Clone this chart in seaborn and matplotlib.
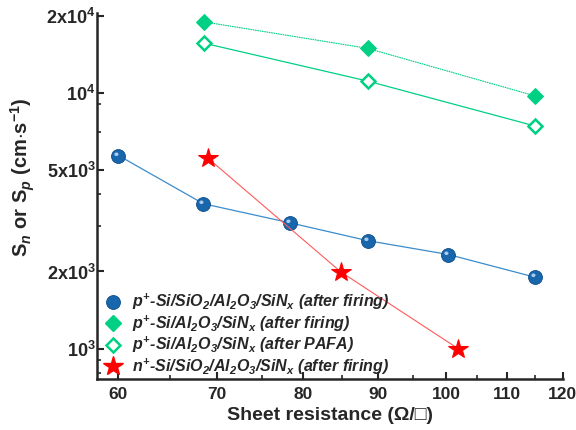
import matplotlib
matplotlib.use('Agg')
import matplotlib.pyplot as plt
from matplotlib.lines import Line2D
from matplotlib.path import Path
from matplotlib.ticker import FixedLocator, NullFormatter
import seaborn as sns
import pandas as pd
import numpy as np

# data (x: sheet resistance, y: S_n or S_p)
blue_x = [60.0, 68.5, 78.4, 88.5, 100.4, 114.9]
blue_y = [5680, 3680, 3100, 2640, 2330, 1900]
green_fill_x = [68.6, 88.5, 115.0]
green_fill_y = [18900, 14900, 9700]
green_open_x = [68.6, 88.5, 115.0]
green_open_y = [15600, 11100, 7400]
red_x = [69.0, 84.9, 101.9]
red_y = [5540, 1990, 1000]

labels = [
    r'$p^{+}$-Si/SiO$_2$/Al$_2$O$_3$/SiN$_x$ (after firing)',
    r'$p^{+}$-Si/Al$_2$O$_3$/SiN$_x$ (after firing)',
    r'$p^{+}$-Si/Al$_2$O$_3$/SiN$_x$ (after PAFA)',
    r'$n^{+}$-Si/SiO$_2$/Al$_2$O$_3$/SiN$_x$ (after firing)',
]
x_major = [60, 70, 80, 90, 100, 110, 120]
x_minor = [65, 75, 85, 95, 105, 115]
y_major = [1000, 2000, 5000, 10000, 20000]
y_major_lbl = [r'$\mathbf{10^{3}}$', r'$\mathbf{2x10^{3}}$', r'$\mathbf{5x10^{3}}$',
               r'$\mathbf{10^{4}}$', r'$\mathbf{2x10^{4}}$']
y_minor = [800, 900, 3000, 4000, 7000, 9000]

sns.set_style('ticks')
plt.rcParams['font.family'] = ['Liberation Sans', 'DejaVu Sans']
plt.rcParams['mathtext.fontset'] = 'custom'
plt.rcParams['mathtext.rm'] = 'Liberation Sans:bold:italic'
plt.rcParams['mathtext.it'] = 'Liberation Sans:bold:italic'
plt.rcParams['mathtext.bf'] = 'Liberation Sans:bold'

BLUE = '#1866ac'
BLUE_LINE = '#3a8ccc'
GREEN = '#00d084'
RED = '#ff0000'
RED_LINE = '#ff5a5a'

fig = plt.figure(figsize=(5.76, 4.30), dpi=100)
ax = fig.add_axes([0.168, 0.1186, 0.809, 0.8514])

# highlight spot for the shaded balls
t = np.linspace(0, 2 * np.pi, 30)
hl = np.column_stack([-0.3 + 0.3 * np.cos(t), 0.32 + 0.26 * np.sin(t)])
verts = np.vstack([[[1, 1]], [[-1, -1]], hl])
codes = [Path.MOVETO, Path.MOVETO, Path.MOVETO] + [Path.LINETO] * (len(hl) - 2) + [Path.CLOSEPOLY]
highlight = Path(verts, codes)

df_blue = pd.DataFrame({'x': blue_x, 'y': blue_y})
df_gf = pd.DataFrame({'x': green_fill_x, 'y': green_fill_y})
df_go = pd.DataFrame({'x': green_open_x, 'y': green_open_y})
df_red = pd.DataFrame({'x': red_x, 'y': red_y})

sns.lineplot(data=df_blue, x='x', y='y', ax=ax, color=BLUE_LINE, linewidth=0.9,
             marker='o', markersize=10, markerfacecolor=BLUE, markeredgecolor='#0d4d88',
             markeredgewidth=0.6)
sns.lineplot(data=df_blue, x='x', y='y', ax=ax, linestyle='none',
             marker=highlight, markersize=10, markerfacecolor='#cfe6ff',
             markeredgewidth=0, alpha=0.8)
sns.lineplot(data=df_gf, x='x', y='y', ax=ax, color=GREEN, linewidth=0.8,
             linestyle=(0, (1.5, 0.6)), marker='D', markersize=8.5,
             markerfacecolor=GREEN, markeredgecolor=GREEN)
sns.lineplot(data=df_go, x='x', y='y', ax=ax, color=GREEN, linewidth=0.9,
             marker='D', markersize=7.5, markerfacecolor='white',
             markeredgecolor=GREEN, markeredgewidth=1.8)
sns.lineplot(data=df_red, x='x', y='y', ax=ax, color=RED_LINE, linewidth=0.8,
             marker='*', markersize=15, markerfacecolor=RED, markeredgecolor=RED)

ax.set_xscale('log')
ax.set_yscale('log')
ax.set_xlim(58.0, 120)
ax.set_ylim(760, 20500)

ax.xaxis.set_major_locator(FixedLocator(x_major))
ax.xaxis.set_minor_locator(FixedLocator(x_minor))
ax.set_xticklabels([str(v) for v in x_major], fontweight='bold', fontsize=12.5)
ax.xaxis.set_minor_formatter(NullFormatter())
ax.yaxis.set_major_locator(FixedLocator(y_major))
ax.yaxis.set_minor_locator(FixedLocator(y_minor))
ax.set_yticklabels(y_major_lbl, fontsize=13)
ax.yaxis.set_minor_formatter(NullFormatter())

ax.tick_params(axis='both', which='major', direction='in', length=5, width=1.5)
ax.tick_params(axis='both', which='minor', direction='in', length=3, width=1.2)
ax.tick_params(axis='x', which='major', pad=6)
ax.tick_params(axis='y', which='major', pad=1)

for side in ['top', 'right']:
    ax.spines[side].set_visible(False)
for side in ['left', 'bottom']:
    ax.spines[side].set_linewidth(1.8)

ax.set_xlabel('Sheet resistance (\u03a9/\u25a1)', fontsize=14, fontweight='bold', labelpad=3)
ax.set_ylabel(r'S$_n$ or S$_p$ (cm$\cdot$s$^{\mathbf{-1}}$)', fontsize=14.5,
              fontweight='bold')
ax.yaxis.set_label_coords(-0.128, 0.55)

handles = [
    Line2D([], [], linestyle='none', marker='o', markersize=10, markerfacecolor=BLUE,
           markeredgecolor='#0d4d88', markeredgewidth=0.6),
    Line2D([], [], linestyle='none', marker='D', markersize=8.5, markerfacecolor=GREEN,
           markeredgecolor=GREEN),
    Line2D([], [], linestyle='none', marker='D', markersize=7.5, markerfacecolor='white',
           markeredgecolor=GREEN, markeredgewidth=1.8),
    Line2D([], [], linestyle='none', marker='*', markersize=15, markerfacecolor=RED,
           markeredgecolor=RED),
]
leg = ax.legend(handles, labels, loc='upper left', bbox_to_anchor=(0.0, 0.255),
                frameon=False, handlelength=1.2, handletextpad=0.6, labelspacing=0.08,
                borderaxespad=0, prop={'size': 11.5, 'weight': 'bold', 'style': 'italic'})

fig.savefig('out.png', dpi=100)
